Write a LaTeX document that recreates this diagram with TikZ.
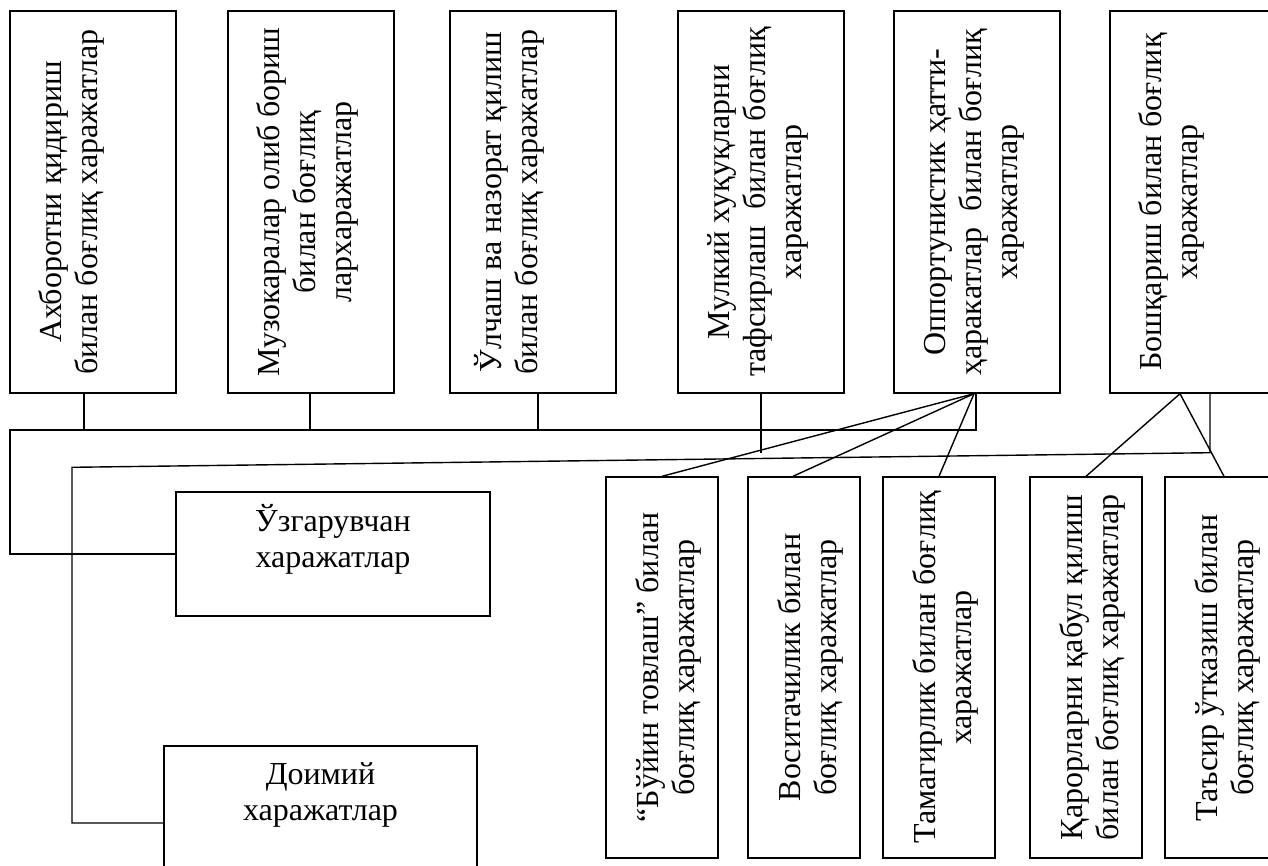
\documentclass[tikz,border=0pt]{standalone}
\usepackage{fontspec}
\setmainfont{Liberation Serif}
\usetikzlibrary{calc}
\begin{document}
\begin{tikzpicture}[x=1pt,y=-1pt,
  box/.style={draw, line width=1.4pt, rectangle, inner sep=0pt},
  tbox/.style={box, minimum width=166pt, minimum height=382pt},
  bbox/.style={box, minimum width=112pt, minimum height=381pt},
  hbox/.style={box, minimum width=314pt, minimum height=124pt},
  vtxt/.style={rotate=90, anchor=base, align=center, inner sep=0pt, font=\fontsize{32}{36}\selectfont},
  htxt/.style={anchor=base, align=center, inner sep=0pt, font=\fontsize{32}{36}\selectfont},
  conn/.style={line width=1.4pt}]
\useasboundingbox (0,0) rectangle (1268,865);
\clip (0,0) rectangle (1268,865);
% top row
\node[tbox] (b1) at (93,202) {};
\node[tbox] (b2) at (311,202) {};
\node[tbox] (b3) at (533,202) {};
\node[tbox] (b4) at (761,202) {};
\node[tbox] (b5) at (977,202) {};
\node[tbox] (b6) at (1193,202) {};
% text: anchor is the baseline of the last line
\node[vtxt] (t1) at ($(b1.west)+(87.7,0)$) {Ахборотни қидириш\\билан боғлиқ харажатлар};
\node[vtxt] (t2) at ($(b2.west)+(123.7,0)$) {Музокаралар олиб бориш\\билан боғлиқ\\лархаражатлар};
\node[vtxt] (t3) at ($(b3.west)+(87.7,0)$) {Ўлчаш ва назорат қилиш\\билан боғлиқ харажатлар};
\node[vtxt] (t4) at ($(b4.west)+(123.7,0)$) {Мулкий хуқуқларни\\тафсирлаш\ \ билан боғлиқ\\харажатлар};
\node[vtxt] (t5) at ($(b5.west)+(123.7,0)$) {Оппортунистик ҳатти-\\ҳаракатлар\ \ билан боғлиқ\\харажатлар};
\node[vtxt] (t6) at ($(b6.west)+(87.7,0)$) {Бошқариш билан боғлиқ\\харажатлар};
% bottom row
\node[bbox] (c1) at (662,667.5) {};
\node[bbox] (c2) at (804,667.5) {};
\node[bbox] (c3) at (939,667.5) {};
\node[bbox] (c4) at (1086,667.5) {};
\node[bbox] (c5) at (1221,667.5) {};
\node[vtxt] (u1) at ($(c1.west)+(89,0)$) {“Бўйин товлаш” билан\\боғлиқ харажатлар};
\node[vtxt] (u2) at ($(c2.west)+(89,0)$) {Воситачилик билан\\боғлиқ харажатлар};
\node[vtxt] (u3) at ($(c3.west)+(89,0)$) {Тамагирлик билан боғлиқ\\харажатлар};
\node[vtxt] (u4) at ($(c4.west)+(89,0)$) {Қарорларни қабул қилиш\\билан боғлиқ харажатлар};
\node[vtxt] (u5) at ($(c5.west)+(89,0)$) {Таъсир ўтказиш билан\\боғлиқ харажатлар};
% left boxes
\node[hbox] (v) at (333,554) {};
\node[hbox, minimum width=313pt, minimum height=154pt] (d) at (320.5,823) {};
\node[htxt] (vt) at ($(v.north)+(0,76)$) {Ўзгарувчан\\харажатлар};
\node[htxt] (dt) at ($(d.north)+(0,75)$) {Доимий\\харажатлар};
% bus coordinates
\coordinate (L1) at (10,430);
\coordinate (R1) at (976,430);
\coordinate (L2) at (72,467.3);
\coordinate (R2) at (1210,452.7);
\coordinate (F1) at ($(b5.south)+(-3,0)$);
\coordinate (F2) at ($(b6.south)+(-13,0)$);
% connectors
\draw[conn] (v.west) -| (L1) -- (R1) -- (R1 |- b5.south);
\draw[conn] (d.west) -| (L2) -- (R2) -- (R2 |- b6.south);
\draw[conn] ([xshift=-9pt]b1.south) -- ([xshift=-9pt]b1.south |- L1);
\draw[conn] ([xshift=-1pt]b2.south) -- ([xshift=-1pt]b2.south |- L1);
\draw[conn] ([xshift=5pt]b3.south) -- ([xshift=5pt]b3.south |- L1);
\draw[conn] (b4.south) -- ++(0,59);
\draw[conn] (c1.north) -- (F1) -- (c3.north);
\draw[conn] (F1) -- ([xshift=-11pt]c2.north);
\draw[conn] (c4.north) -- (F2) -- ([xshift=3pt]c5.north);
\end{tikzpicture}
\end{document}
